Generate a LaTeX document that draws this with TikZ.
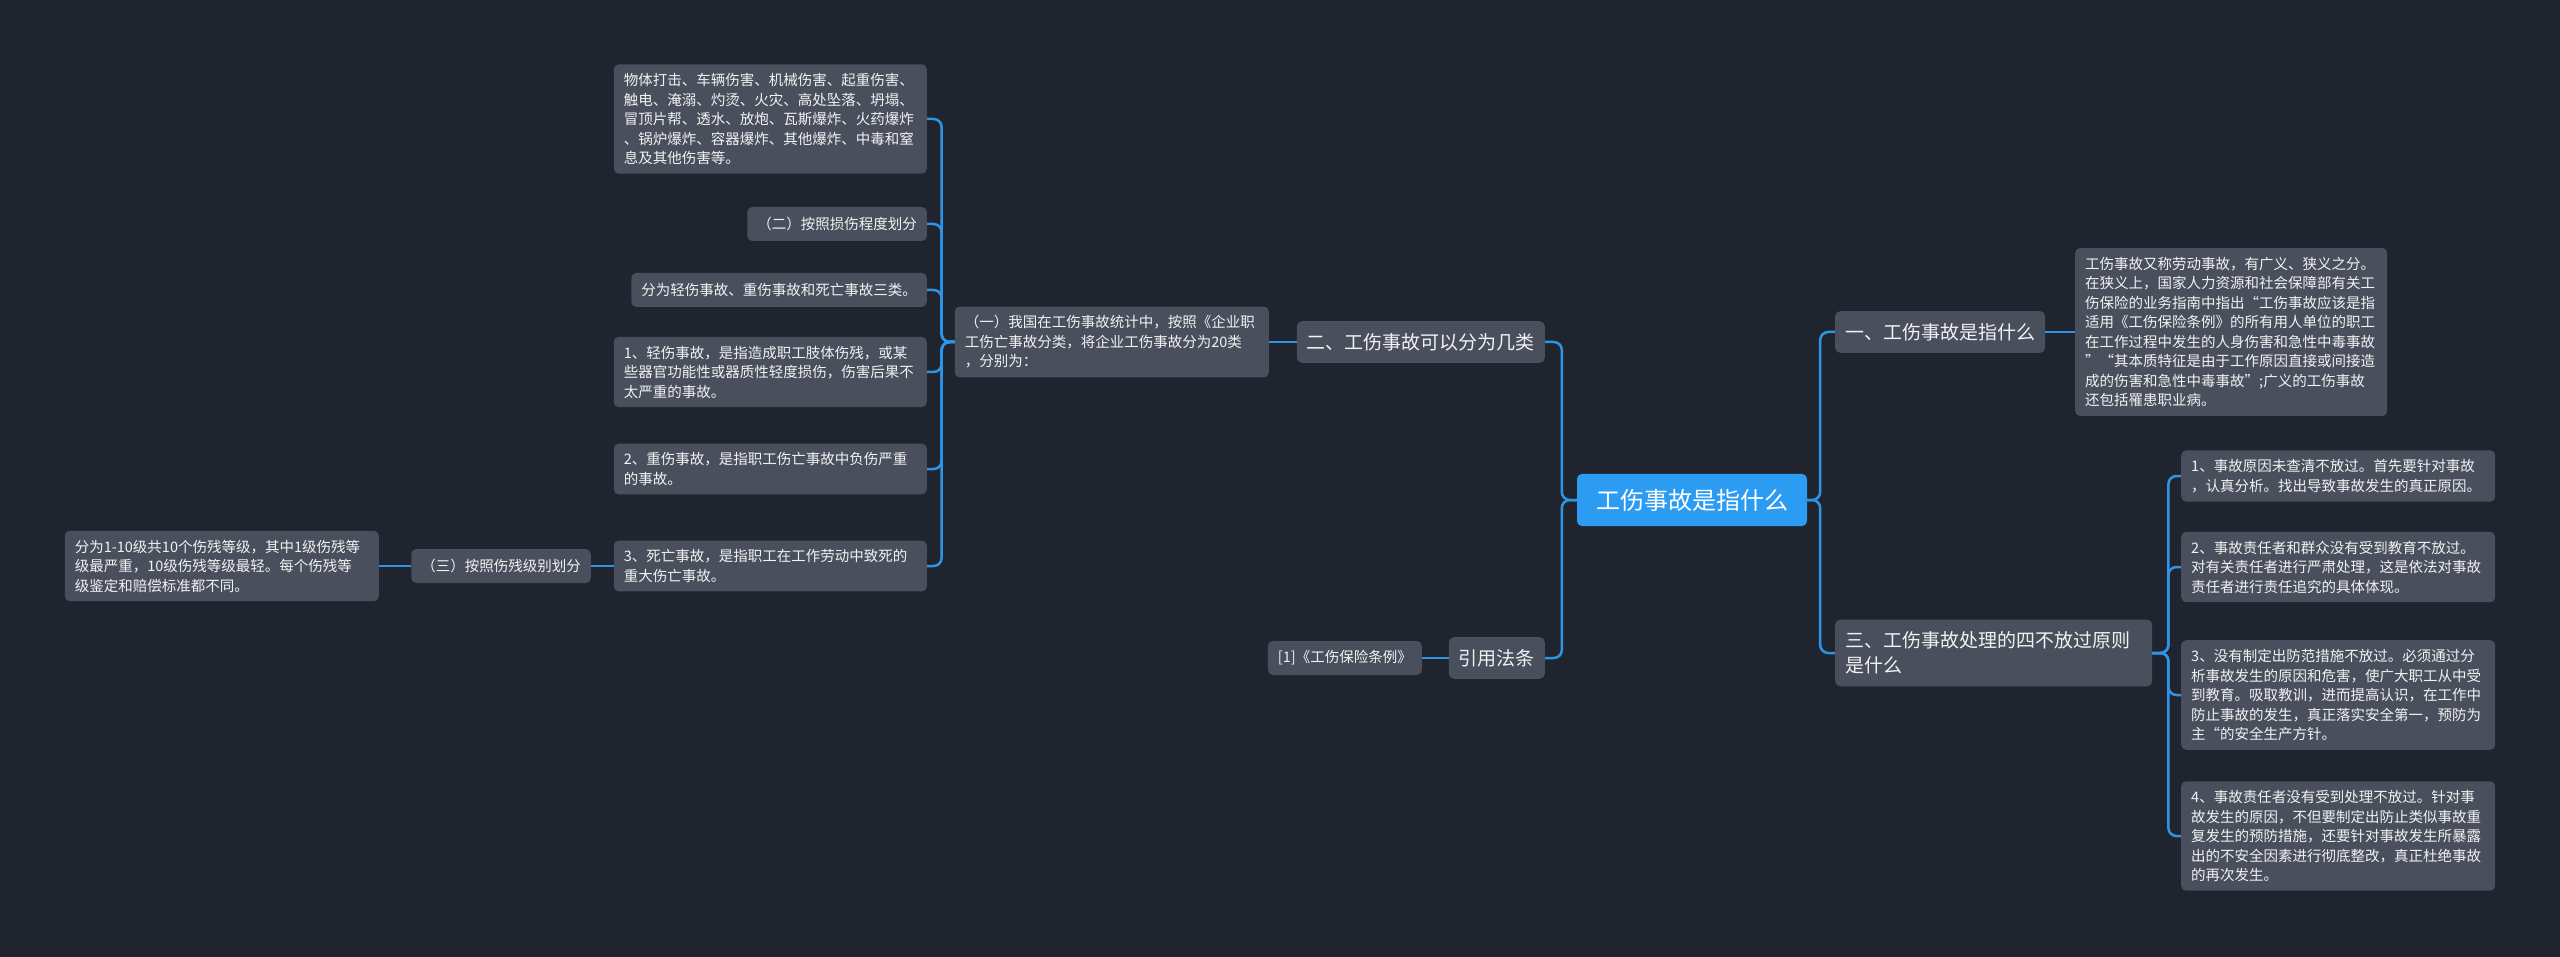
\documentclass[tikz,border=0pt]{standalone}
\usepackage{fontspec}
\setmainfont{Noto Sans CJK SC}
\definecolor{hinter}{HTML}{20242F}
\definecolor{kasten}{HTML}{4A4F5D}
\definecolor{zentrum}{HTML}{2B9CF2}
\definecolor{linie}{HTML}{2D95E8}
\definecolor{schrift}{HTML}{F2F2F2}
\begin{document}
\begin{tikzpicture}
    [
    x=1pt, y=-1pt, >=latex,
    box/.style={fill=kasten, rounded corners=5pt, text=schrift, align=left,
      font=\fontsize{14.5}{19.5}\selectfont, inner xsep=10pt, inner ysep=9pt},
    zeile/.style={box, minimum height=34pt},
    haupt/.style={box, font=\fontsize{19}{25}\selectfont, inner ysep=12pt},
    mitte/.style={box, fill=zentrum, text=white, font=\fontsize{24}{30}\selectfont,
      inner xsep=19pt, inner ysep=15pt},
    link/.style={draw=linie, line width=2.5pt, rounded corners=8pt}
    %Stile fuer Kaesten und Linien
    ]

    %Hintergrund
    \fill[hinter] (0,0) rectangle (2560,957);

    %Mitte
    \node[mitte] (mitte) at (1692,500) {工伤事故是指什么};

    %rechte Seite
    \node[haupt, anchor=west] (eins) at (1835,332) {一、工伤事故是指什么};
    \node[haupt, anchor=west, text width=297pt] (drei) at (1835,653)
    {三、工伤事故处理的四不放过原则\\是什么};
    \node[box, anchor=west, text width=292pt] (beschr) at (2075,332)
    {工伤事故又称劳动事故，有广义、狭义之分。\\在狭义上，国家人力资源和社会保障部有关工\\伤保险的业务指南中指出“工伤事故应该是指\\适用《工伤保险条例》的所有用人单位的职工\\在工作过程中发生的人身伤害和急性中毒事故\\”“其本质特征是由于工作原因直接或间接造\\成的伤害和急性中毒事故”;广义的工伤事故\\还包括罹患职业病。};
    \node[box, anchor=west, text width=294pt] (p1) at (2181,476)
    {1、事故原因未查清不放过。首先要针对事故\\，认真分析。找出导致事故发生的真正原因。};
    \node[box, anchor=west, text width=294pt] (p2) at (2181,567)
    {2、事故责任者和群众没有受到教育不放过。\\对有关责任者进行严肃处理，这是依法对事故\\责任者进行责任追究的具体体现。};
    \node[box, anchor=west, text width=294pt] (p3) at (2181,695)
    {3、没有制定出防范措施不放过。必须通过分\\析事故发生的原因和危害，使广大职工从中受\\到教育。吸取教训，进而提高认识，在工作中\\防止事故的发生，真正落实安全第一，预防为\\主“的安全生产方针。};
    \node[box, anchor=west, text width=294pt] (p4) at (2181,836)
    {4、事故责任者没有受到处理不放过。针对事\\故发生的原因，不但要制定出防止类似事故重\\复发生的预防措施，还要针对事故发生所暴露\\出的不安全因素进行彻底整改，真正杜绝事故\\的再次发生。};

    %linke Seite
    \node[haupt, anchor=east] (zwei) at (1545,342) {二、工伤事故可以分为几类};
    \node[haupt, anchor=east] (recht) at (1545,658) {引用法条};
    \node[zeile, anchor=east] (quelle) at (1422,658) {[1]《工伤保险条例》};
    \node[box, anchor=east, text width=294pt] (klass) at (1269,342)
    {（一）我国在工伤事故统计中，按照《企业职\\工伤亡事故分类，将企业工伤事故分为20类\\，分别为：};

    %Unterpunkte von (一)
    \node[box, anchor=east, text width=293pt] (d1) at (927,119)
    {物体打击、车辆伤害、机械伤害、起重伤害、\\触电、淹溺、灼烫、火灾、高处坠落、坍塌、\\冒顶片帮、透水、放炮、瓦斯爆炸、火药爆炸\\、锅炉爆炸、容器爆炸、其他爆炸、中毒和窒\\息及其他伤害等。};
    \node[zeile, anchor=east] (d2) at (927,224) {（二）按照损伤程度划分};
    \node[zeile, anchor=east] (d3) at (927,290) {分为轻伤事故、重伤事故和死亡事故三类。};
    \node[box, anchor=east, text width=293pt] (d4) at (927,372)
    {1、轻伤事故，是指造成职工肢体伤残，或某\\些器官功能性或器质性轻度损伤，伤害后果不\\太严重的事故。};
    \node[box, anchor=east, text width=293pt] (d5) at (927,469)
    {2、重伤事故，是指职工伤亡事故中负伤严重\\的事故。};
    \node[box, anchor=east, text width=293pt] (d6) at (927,566)
    {3、死亡事故，是指职工在工作劳动中致死的\\重大伤亡事故。};
    \node[zeile, anchor=east] (stufe) at (591,566) {（三）按照伤残级别划分};
    \node[box, anchor=east, text width=294pt] (stufentext) at (379,566)
    {分为1-10级共10个伤残等级，其中1级伤残等\\级最严重，10级伤残等级最轻。每个伤残等\\级鉴定和赔偿标准都不同。};

    %Verbindungen rechts
    \draw[link] (mitte.east) -- ++(13,0) |- (eins.west);
    \draw[link] (mitte.east) -- ++(13,0) |- (drei.west);
    \draw[link] (eins.east) -- (beschr.west);
    \foreach \i in {1,...,4}
    \draw[link] (drei.east) -- ++(16,0) |- (p\i.west);

    %Verbindungen links
    \draw[link] (mitte.west) -- ++(-15,0) |- (zwei.east);
    \draw[link] (mitte.west) -- ++(-15,0) |- (recht.east);
    \draw[link] (zwei.west) -- (klass.east);
    \draw[link] (recht.west) -- (quelle.east);
    \foreach \i in {1,...,6}
    \draw[link] (klass.west) -- ++(-13,0) |- (d\i.east);
    \draw[link] (d6.west) -- (stufe.east);
    \draw[link] (stufe.west) -- (stufentext.east);
\end{tikzpicture}
\end{document}
